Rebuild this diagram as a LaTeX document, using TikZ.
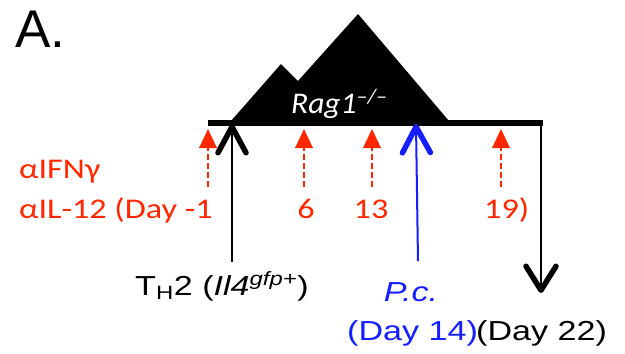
\documentclass[tikz,border=0pt]{standalone}
\usepackage{fontspec}
\setmainfont{Liberation Sans}
\newfontfamily\calib{Carlito}
\usetikzlibrary{arrows.meta}
\definecolor{redA}{RGB}{255,38,0}
\definecolor{blueA}{RGB}{20,30,255}
\begin{document}
\begin{tikzpicture}[x=1pt,y=-1pt,
  redshaft/.style={draw=redA, line width=2.2pt, dash pattern=on 6pt off 3pt},
  redtip/.style={fill=redA},
  chevup/.style={line width=2pt, -{Straight Barb[length=26pt,width=28pt,line width=5.5pt,round]}},
  redlbl/.style={text=redA, font=\calib\fontsize{28.5}{34}\selectfont, inner sep=0pt},
  blklbl/.style={font=\fontsize{27.5}{32}\selectfont, inner sep=0pt},
  timebar/.style={line width=6.5pt}
]
\useasboundingbox (0,0) rectangle (625,354);

% title
\node[inner sep=0pt, anchor=base west, font=\fontsize{53}{60}\selectfont] (title) at (15,47) {A.};

% mountain (Rag1 mouse)
\fill[black] (231,121) -- (281,64) -- (298,81) -- (358,14) -- (449,121) -- cycle;
\node[inner sep=0pt, anchor=base west, text=white, font=\calib\itshape\fontsize{30}{34}\selectfont] (rag) at (291,113)
  {\scalebox{1.05}[1]{Rag1\textsuperscript{–/–}}};

% timeline
\coordinate (bl) at (208,123);
\coordinate (br) at (543,123);
\draw[timebar] (bl) -- (br);

% red antibody injections
\foreach \n/\x in {1/208, 2/304, 3/372, 4/501}{
  \coordinate (r\n t) at (\x,129);
  \coordinate (r\n m) at (\x,147);
  \coordinate (r\n b) at (\x,187);
  \draw[redshaft] (r\n b) -- (r\n m);
  \fill[redtip] (r\n t) -- ++(9,19) -- ++(-18,0) -- cycle;
}

\node[redlbl, anchor=base west] (ifn) at (19,178) {\scalebox{1.2}[1]{αIFNγ}};
\node[redlbl, anchor=base west] (il12) at (19,218) {\scalebox{1.2}[1]{αIL-12 (Day -1}};
\node[redlbl, anchor=base] (d6) at (306,218) {\scalebox{1.2}[1]{6}};
\node[redlbl, anchor=base] (d13) at (371,218) {\scalebox{1.2}[1]{13}};
\node[redlbl, anchor=base west] (d19) at (484,218) {\scalebox{1.2}[1]{19)}};

% TH2 transfer
\coordinate (tht) at (232,124); \coordinate (thb) at (232,262);
\draw[chevup] (thb) -- (tht);
\node[blklbl, anchor=base west] (th2) at (135,295)
  {\scalebox{1.24}[1]{T\textsubscript{H}2 (\textit{Il4}\textsuperscript{\textit{gfp+}})}};

% P.c. infection
\coordinate (pct) at (416,124); \coordinate (pcb) at (418,261);
\draw[chevup, blueA] (pcb) -- (pct);
\node[blklbl, anchor=base, text=blueA] (pc) at (411,301) {\scalebox{1.24}[1]{\textit{P.c.}}};
\node[blklbl, anchor=base west, text=blueA] (d14) at (347,340) {\scalebox{1.24}[1]{(Day 14)}};

% analysis
\coordinate (endtop) at (541,123);
\coordinate (endt) at (541,293);
\draw[line width=2pt, -{Straight Barb[length=24pt,width=30pt,line width=5.5pt,round]}] (endtop) -- (endt);
\node[blklbl, anchor=base west] (d22) at (476,340) {\scalebox{1.24}[1]{(Day 22)}};
\end{tikzpicture}
\end{document}
